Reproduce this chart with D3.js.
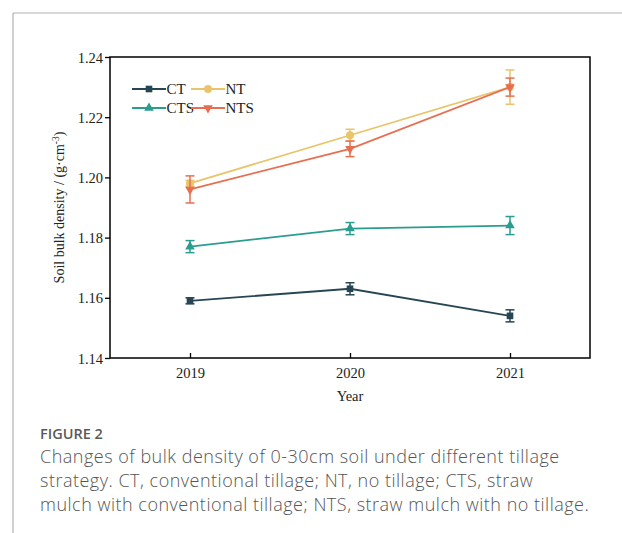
<!DOCTYPE html>
<html><head><meta charset="utf-8">
<script src="https://cdn.jsdelivr.net/npm/d3@7"></script>
<style>
html,body{margin:0;padding:0;background:#fff;}
svg{display:block;}
</style></head>
<body>
<svg id="chart" width="622" height="533"></svg>
<script>
const years = [2019, 2020, 2021];
const seriesNames = ["CT", "NT", "CTS", "NTS"];
const CT = [1.159, 1.163, 1.154];
const CT_err = [0.001, 0.002, 0.002];
const NT = [1.198, 1.214, 1.230];
const NT_err = [0.001, 0.002, 0.0057];
const CTS = [1.177, 1.183, 1.184];
const CTS_err = [0.002, 0.002, 0.003];
const NTS = [1.196, 1.2095, 1.230];
const NTS_err = [0.0045, 0.0026, 0.003];
const yTicks = [1.14, 1.16, 1.18, 1.20, 1.22, 1.24];
const captionTitle = "FIGURE 2";
const captionLines = [
  "Changes of bulk density of 0-30cm soil under different tillage",
  "strategy. CT, conventional tillage; NT, no tillage; CTS, straw",
  "mulch with conventional tillage; NTS, straw mulch with no tillage."
];

const colors = {CT:"#264653", NT:"#e9c46a", CTS:"#2a9d8f", NTS:"#e76f51"};
const symbols = {CT:d3.symbolSquare, NT:d3.symbolCircle, CTS:d3.symbolTriangle, NTS:"invtri"};
const data = {CT:{v:CT,e:CT_err}, NT:{v:NT,e:NT_err}, CTS:{v:CTS,e:CTS_err}, NTS:{v:NTS,e:NTS_err}};
const drawOrder = ["CT","CTS","NT","NTS"];

const svg = d3.select("#chart");
// page frame
svg.append("line").attr("x1",13).attr("y1",13).attr("x2",622).attr("y2",13).attr("stroke","#b0b0b0").attr("stroke-width",1.2);
svg.append("line").attr("x1",13).attr("y1",13).attr("x2",13).attr("y2",533).attr("stroke","#b0b0b0").attr("stroke-width",1.2);

const L=110, R=590, T=57, B=358;
const x = d3.scaleLinear().domain([2018.5, 2021.5]).range([L, R]);
const y = d3.scaleLinear().domain([1.14, 1.24]).range([B, T]);
const serif = "'Liberation Serif','Times New Roman',serif";

const g = svg.append("g");
// y axis
const ya = g.append("g").attr("transform",`translate(${L},0)`)
  .call(d3.axisLeft(y).tickValues(yTicks).tickFormat(d3.format(".2f")).tickSize(5).tickSizeOuter(0));
ya.attr("font-size",null).attr("font-family",null);
ya.select(".domain").remove();
ya.selectAll("line").attr("stroke","#000").attr("stroke-width",1.3);
ya.selectAll("text").attr("font-family",serif).attr("font-size",14.5).attr("fill","#222").attr("x",-7).attr("dy","0.35em");
// x axis
const xa = g.append("g").attr("transform",`translate(0,${B})`)
  .call(d3.axisBottom(x).tickValues(years).tickFormat(d3.format("d")).tickSize(-5).tickSizeOuter(0));
xa.attr("font-size",null).attr("font-family",null);
xa.select(".domain").remove();
xa.selectAll("line").attr("stroke","#000").attr("stroke-width",1.3);
xa.selectAll("text").attr("font-family",serif).attr("font-size",14.5).attr("fill","#222").attr("y",10);
// frame
g.append("rect").attr("x",L).attr("y",T).attr("width",R-L).attr("height",B-T)
  .attr("fill","none").attr("stroke","#000").attr("stroke-width",1.5);

// titles
svg.append("text").attr("x",(L+R)/2).attr("y",401).attr("text-anchor","middle")
  .attr("font-family",serif).attr("font-size",14.5).attr("fill","#222").text("Year");
const yt = svg.append("text").attr("transform",`translate(64,${(T+B)/2}) rotate(-90)`)
  .attr("text-anchor","middle").attr("font-family",serif).attr("font-size",14).attr("fill","#222");
yt.append("tspan").text("Soil bulk density / (g\u00B7cm");
yt.append("tspan").attr("dy",-5).attr("font-size",9.5).text("-3");
yt.append("tspan").attr("dy",5).text(")");

function symPath(name, size){
  if (symbols[name]==="invtri") {
    return d3.symbol().type(d3.symbolTriangle).size(size)();
  }
  return d3.symbol().type(symbols[name]).size(size)();
}
const symSize = {CT:44, NT:50, CTS:40, NTS:40};

drawOrder.forEach(name=>{
  const s = data[name], c = colors[name];
  const pts = years.map((yr,i)=>({x:yr, v:s.v[i], e:s.e[i]}));
  const sg = svg.append("g");
  sg.append("path").datum(pts)
    .attr("d", d3.line().x(d=>x(d.x)).y(d=>y(d.v)))
    .attr("fill","none").attr("stroke",c).attr("stroke-width",1.8);
  pts.forEach(p=>{
    const cx=x(p.x), y1=y(p.v+p.e), y2=y(p.v-p.e);
    sg.append("line").attr("x1",cx).attr("x2",cx).attr("y1",y1).attr("y2",y2).attr("stroke",c).attr("stroke-width",1.5);
    [y1,y2].forEach(yy=>sg.append("line").attr("x1",cx-4.5).attr("x2",cx+4.5).attr("y1",yy).attr("y2",yy).attr("stroke",c).attr("stroke-width",1.5));
    const rot = symbols[name]==="invtri" ? " rotate(180)" : "";
    sg.append("path").attr("d",symPath(name,symSize[name]))
      .attr("transform",`translate(${cx},${y(p.v)})${rot}`).attr("fill",c);
  });
});

// legend
const legendPos = [
  {name:"CT", x:132, y:89}, {name:"NT", x:191, y:89},
  {name:"CTS", x:132, y:108}, {name:"NTS", x:191, y:108}
];
legendPos.forEach(lp=>{
  const c = colors[lp.name];
  svg.append("line").attr("x1",lp.x).attr("x2",lp.x+34).attr("y1",lp.y).attr("y2",lp.y).attr("stroke",c).attr("stroke-width",1.8);
  const rot = symbols[lp.name]==="invtri" ? " rotate(180)" : "";
  svg.append("path").attr("d",symPath(lp.name,symSize[lp.name]))
    .attr("transform",`translate(${lp.x+17},${lp.y})${rot}`).attr("fill",c);
  svg.append("text").attr("x",lp.x+34.5).attr("y",lp.y+5).attr("font-family",serif)
    .attr("font-size",15).attr("fill","#222").text(lp.name);
});

// caption
const sans = "'Open Sans','Noto Sans',sans-serif";
svg.append("text").attr("x",40).attr("y",439).attr("font-family",sans).attr("font-size",14.5)
  .attr("font-weight",600).attr("fill","#5a5a5a").text(captionTitle);
captionLines.forEach((t,i)=>{
  svg.append("text").attr("x",40).attr("y",463+i*24).attr("font-family",sans).attr("font-size",18)
    .attr("font-weight",300).attr("letter-spacing",0.5).attr("fill","#555").text(t);
});
</script>
</body></html>
